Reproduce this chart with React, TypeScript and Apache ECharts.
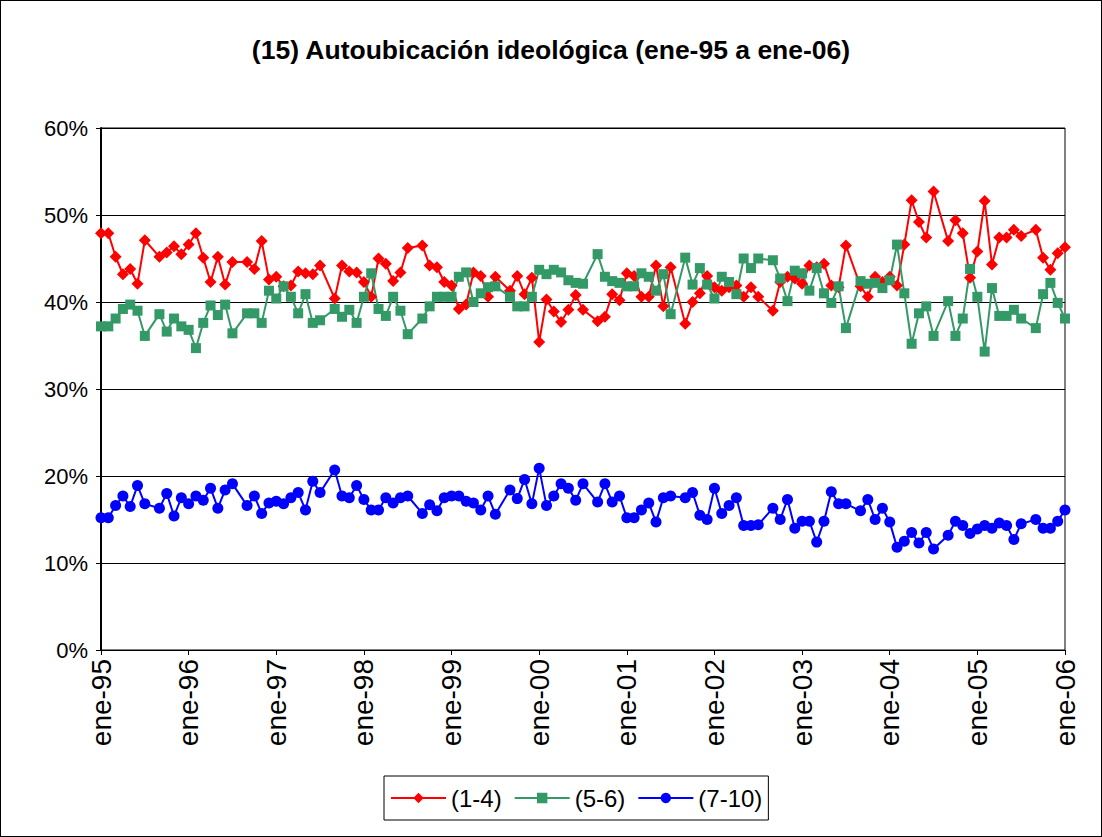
import React, { useEffect, useRef } from "react";
import * as echarts from "echarts";

const monthNames = ["ene", "feb", "mar", "abr", "may", "jun", "jul", "ago", "sep", "oct", "nov", "dic"];
const years = ["95", "96", "97", "98", "99", "00", "01", "02", "03", "04", "05"];
const lastLabel = "ene-06";

// (1-4) izquierda — one row per year, Jan..Dec (no survey in August)
const serie14 = [
  47.9, 47.9, 45.2, 43.2, 43.8, 42.1, 47.1, null, 45.2, 45.7, 46.4, 45.5,
  46.6, 47.9, 45.1, 42.3, 45.2, 42.0, 44.6, null, 44.6, 43.8, 47.0, 42.6,
  42.9, 41.8, 41.9, 43.5, 43.3, 43.2, 44.2, null, 40.4, 44.2, 43.5, 43.4,
  42.3, 40.6, 45.0, 44.4, 42.4, 43.4, 46.2, null, 46.5, 44.2, 44.0, 42.3,
  41.9, 39.2, 39.7, 43.4, 43.0, 40.6, 42.9, null, 41.3, 43.0, 40.9, 42.8,
  35.4, 40.3, 38.9, 37.7, 39.1, 40.8, 39.1, null, 37.8, 38.3, 40.9, 40.2,
  43.3, 43.0, 40.6, 40.6, 44.2, 39.5, 44.0, null, 37.5, 40.0, 41.0, 43.0,
  41.7, 41.3, 41.7, 41.9, 40.6, 41.7, 40.6, null, 39.0, 42.3, 42.9, 42.7,
  42.1, 44.2, 44.0, 44.4, 41.9, 41.7, 46.5, null, 41.8, 40.6, 42.9, 42.3,
  42.9, 41.9, 46.6, 51.7, 49.2, 47.4, 52.7, null, 47.0, 49.4, 47.9, 42.8,
  45.8, 51.6, 44.3, 47.4, 47.4, 48.3, 47.6, null, 48.3, 45.1, 43.7, 45.6,
  46.3,
];

// (5-6) centro
const serie56 = [
  37.2, 37.2, 38.1, 39.2, 39.7, 39.0, 36.1, null, 38.6, 36.6, 38.1, 37.2,
  36.8, 34.7, 37.6, 39.6, 38.5, 39.7, 36.4, null, 38.7, 38.7, 37.6, 41.3,
  40.4, 41.8, 40.6, 38.7, 40.9, 37.6, 37.9, null, 39.2, 38.3, 39.1, 37.6,
  40.6, 43.3, 39.2, 38.4, 40.6, 39.0, 36.3, null, 38.1, 39.5, 40.6, 40.6,
  40.6, 42.9, 43.4, 40.0, 41.0, 41.7, 41.8, null, 40.6, 39.5, 39.5, 40.6,
  43.7, 43.2, 43.7, 43.4, 42.5, 42.2, 42.1, null, 45.5, 42.9, 42.4, 42.2,
  41.8, 41.8, 43.3, 42.9, 41.3, 43.2, 38.6, null, 45.1, 42.0, 43.9, 42.0,
  40.4, 42.9, 42.3, 40.9, 45.0, 43.9, 45.0, null, 44.8, 42.7, 40.1, 43.6,
  43.3, 41.3, 43.9, 41.0, 39.9, 41.8, 37.0, null, 42.4, 42.1, 42.2, 41.6,
  42.5, 46.6, 41.0, 35.2, 38.7, 39.5, 36.1, null, 40.1, 36.1, 38.1, 43.8,
  40.6, 34.3, 41.6, 38.4, 38.4, 39.1, 38.1, null, 37.0, 40.9, 42.2, 39.9,
  38.1,
];

// (7-10) derecha
const serie710 = [
  15.2, 15.2, 16.6, 17.7, 16.5, 18.9, 16.8, null, 16.3, 18.0, 15.4, 17.5,
  16.8, 17.7, 17.2, 18.6, 16.3, 18.4, 19.1, null, 16.6, 17.7, 15.7, 16.9,
  17.1, 16.8, 17.5, 18.1, 16.1, 19.4, 18.1, null, 20.7, 17.7, 17.5, 18.9,
  17.3, 16.1, 16.1, 17.5, 16.9, 17.5, 17.7, null, 15.7, 16.7, 16.0, 17.5,
  17.7, 17.7, 17.1, 16.9, 16.1, 17.7, 15.6, null, 18.4, 17.4, 19.6, 16.8,
  20.9, 16.6, 17.7, 19.1, 18.6, 17.2, 19.1, null, 17.0, 19.1, 17.0, 17.7,
  15.2, 15.2, 16.1, 16.9, 14.7, 17.5, 17.7, null, 17.5, 18.1, 15.5, 15.0,
  18.6, 15.7, 16.6, 17.5, 14.3, 14.3, 14.4, null, 16.3, 15.0, 17.3, 14.0,
  14.8, 14.8, 12.4, 14.8, 18.2, 16.8, 16.8, null, 16.0, 17.3, 15.0, 16.3,
  14.7, 11.8, 12.5, 13.5, 12.3, 13.5, 11.6, null, 13.2, 14.8, 14.3, 13.4,
  13.9, 14.3, 14.0, 14.6, 14.3, 12.7, 14.5, null, 15.0, 14.0, 14.0, 14.8,
  16.1,
];

const seriesNames = ["(1-4)", "(5-6)", "(7-10)"];
const seriesColors = ["#FF0000", "#339966", "#0000FF"];
const seriesSymbols = ["diamond", "rect", "circle"];
const titleText = "(15) Autoubicación ideológica (ene-95 a ene-06)";

const categories: string[] = [];
years.forEach((y) => monthNames.forEach((m) => categories.push(`${m}-${y}`)));
categories.push(lastLabel);

const FONT = "'Liberation Sans', Arial, sans-serif";

export default function App() {
  const ref = useRef<HTMLDivElement>(null);
  useEffect(() => {
    document.body.style.margin = "0";
    if (!ref.current) return;
    const chart = echarts.init(ref.current, null, { renderer: "svg" });
    const datasets = [serie14, serie56, serie710];
    const symbolSizes = [12, 10, 11];
    chart.setOption({
      animation: false,
      backgroundColor: "#ffffff",
      textStyle: { fontFamily: FONT },
      title: {
        text: titleText,
        left: "center",
        top: 30,
        textStyle: { fontFamily: FONT, fontSize: 26.5, fontWeight: "bold", color: "#000" },
      },
      grid: {
        left: 100,
        right: 36,
        top: 127,
        bottom: 186,
        show: true,
        borderColor: "#000",
        borderWidth: 1,
        backgroundColor: "#fff",
      },
      legend: {
        data: seriesNames,
        left: 383,
        top: 775,
        itemWidth: 55,
        itemHeight: 13,
        itemGap: 12,
        borderColor: "#000",
        borderWidth: 1,
        padding: [10, 6, 10, 6],
        textStyle: { fontFamily: FONT, fontSize: 24, color: "#000" },
      },
      xAxis: {
        type: "category",
        data: categories,
        boundaryGap: false,
        axisLine: { show: true, lineStyle: { color: "#000", width: 1 } },
        axisTick: {
          show: true,
          length: 5,
          interval: (i: number) => i % 12 === 0,
          lineStyle: { color: "#000" },
        },
        axisLabel: {
          interval: (i: number) => i % 12 === 0,
          rotate: 90,
          margin: 9,
          fontFamily: FONT,
          fontSize: 28,
          color: "#000",
        },
        splitLine: { show: false },
      },
      yAxis: {
        type: "value",
        min: 0,
        max: 60,
        interval: 10,
        axisLine: { show: true, lineStyle: { color: "#000", width: 2 } },
        axisTick: { show: true, length: 5, lineStyle: { color: "#000" } },
        axisLabel: {
          formatter: "{value}%",
          margin: 13,
          fontFamily: FONT,
          fontSize: 22,
          color: "#000",
        },
        splitLine: { show: true, lineStyle: { color: "#000", width: 1 } },
      },
      series: datasets.map((d, k) => ({
        name: seriesNames[k],
        type: "line",
        data: d,
        connectNulls: true,
        symbol: seriesSymbols[k],
        symbolSize: symbolSizes[k],
        showAllSymbol: true,
        itemStyle: { color: seriesColors[k], borderWidth: 0 },
        lineStyle: { color: seriesColors[k], width: 2 },
      })),
    });
    return () => chart.dispose();
  }, []);
  return (
    <div
      ref={ref}
      style={{
        position: "absolute",
        left: 0,
        top: 0,
        width: 1102,
        height: 837,
        boxSizing: "border-box",
        border: "1px solid #000",
      }}
    />
  );
}
